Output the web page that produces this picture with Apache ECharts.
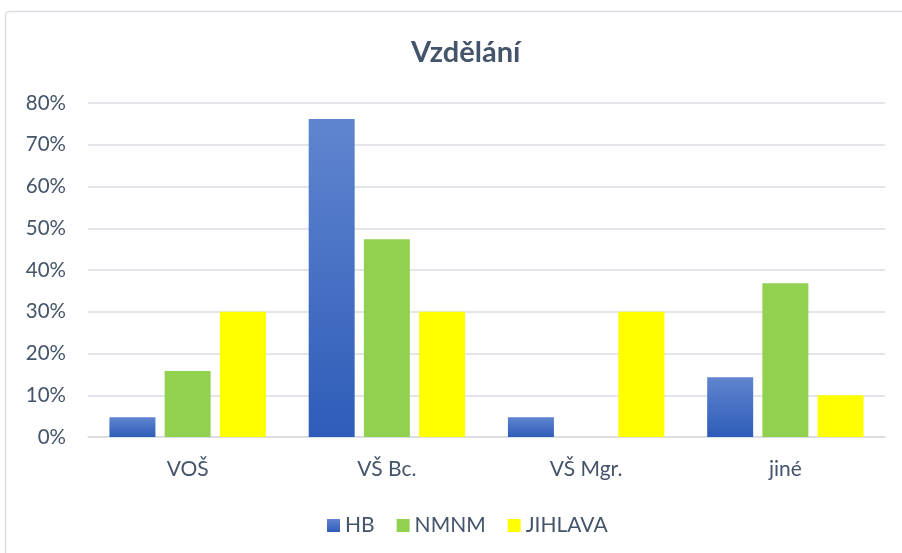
<!DOCTYPE html>
<html><head><meta charset="utf-8">
<script src="https://cdn.jsdelivr.net/npm/echarts@6/dist/echarts.min.js"></script>
<style>html,body{margin:0;padding:0;background:#fff}#c{width:902px;height:553px}</style>
</head><body><div id="c"></div>
<script>
const categories = ['VOŠ', 'VŠ Bc.', 'VŠ Mgr.', 'jiné'];
const seriesNames = ['HB', 'NMNM', 'JIHLAVA'];
const hbValues = [4.76, 76.19, 4.76, 14.29];
const nmnmValues = [15.79, 47.37, 0, 36.84];
const jihlavaValues = [30, 30, 30, 10];
const yTicks = [0, 10, 20, 30, 40, 50, 60, 70, 80];

const txt = '#44546a';
const font = 'Lato';
const chart = echarts.init(document.getElementById('c'));
const hbGrad = new echarts.graphic.LinearGradient(0, 0, 0, 1, [
  {offset: 0, color: '#6085d0'}, {offset: 1, color: '#2e5cb8'}
]);
chart.setOption({
  animation: false,
  textStyle: {fontFamily: font},
  graphic: [{type: 'rect', shape: {x: 5.5, y: 11.5, width: 1000, height: 1000, r: 4},
    style: {fill: 'none', stroke: '#d9dde3', lineWidth: 1.5}, silent: true}],
  title: {text: 'Vzdělání', left: 406, top: 33,
    textStyle: {fontFamily: font, fontSize: 29, fontWeight: 'bold', color: txt}},
  legend: {bottom: 12, left: 322, itemWidth: 13, itemHeight: 13, itemGap: 22,
    textStyle: {fontFamily: font, fontSize: 21, color: txt, padding: [0, 0, 0, 0]},
    icon: 'rect', data: seriesNames},
  grid: {left: 88, right: 17, top: 103, bottom: 116, containLabel: false},
  xAxis: {type: 'category', data: categories,
    axisLine: {lineStyle: {color: '#d9dde3', width: 1.5}}, axisTick: {show: false},
    axisLabel: {color: txt, fontSize: 21, fontFamily: font, margin: 22}},
  yAxis: {type: 'value', min: 0, max: 80, interval: 10,
    axisLabel: {color: txt, fontSize: 20.5, fontFamily: font, margin: 22,
      formatter: v => yTicks.includes(v) ? v + '%' : ''},
    axisLine: {show: false}, axisTick: {show: false},
    splitLine: {lineStyle: {color: '#d9dde3', width: 1.5}}},
  series: [
    {name: 'HB', type: 'bar', data: hbValues, barWidth: 46, barGap: '20%',
      itemStyle: {color: hbGrad}},
    {name: 'NMNM', type: 'bar', data: nmnmValues, barWidth: 46,
      itemStyle: {color: '#92d050'}},
    {name: 'JIHLAVA', type: 'bar', data: jihlavaValues, barWidth: 46,
      itemStyle: {color: '#ffff00'}}
  ]
});
</script></body></html>
